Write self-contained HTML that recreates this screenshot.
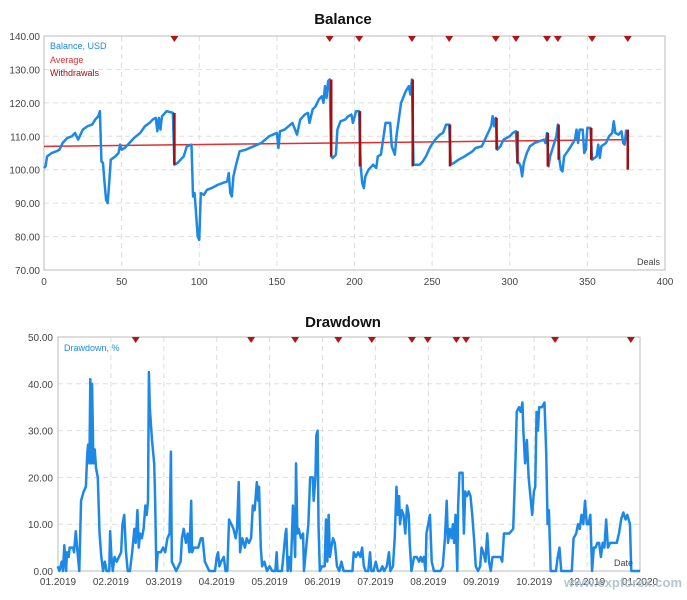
<!DOCTYPE html><html><head><meta charset="utf-8"><style>
body{margin:0;background:#fff;width:687px;height:600px;overflow:hidden}
svg{display:block;font-family:"Liberation Sans","DejaVu Sans",sans-serif}
</style></head><body>
<svg id="s" width="687" height="600" xmlns="http://www.w3.org/2000/svg">
<text x="343" y="24" text-anchor="middle" font-size="15" font-weight="bold" fill="#111">Balance</text>
<text x="343" y="327" text-anchor="middle" font-size="15" font-weight="bold" fill="#111">Drawdown</text>
</svg>
<script>
const s=document.getElementById('s');const NS='http://www.w3.org/2000/svg';
function el(t,a,txt){const e=document.createElementNS(NS,t);for(const k in a)e.setAttribute(k,a[k]);if(txt!==undefined)e.textContent=txt;s.appendChild(e);return e;}
// ---- Balance
const L=44,R=665,T=36,B=270;
const bx=d=>L+d*(R-L)/400, by=v=>T+(140-v)*(B-T)/70;
for(let v=70;v<=140;v+=10){const y=by(v);if(v>70&&v<140)el('line',{x1:L,x2:R,y1:y,y2:y,stroke:'#ddd','stroke-dasharray':'5,4'});el('text',{x:L-4,y:y+4,'text-anchor':'end','font-size':10,fill:'#444'},v.toFixed(2));}
for(let d=0;d<=400;d+=50){const x=bx(d);if(d>0&&d<400)el('line',{x1:x,x2:x,y1:T,y2:B,stroke:'#ddd','stroke-dasharray':'5,4'});el('text',{x:x,y:B+15,'text-anchor':'middle','font-size':10,fill:'#444'},d);}
el('rect',{x:L,y:T,width:R-L,height:B-T,fill:'none',stroke:'#bbb'});
const bal=[[0,100.5],[1,101],[2,104],[5,105],[8,105.5],[10,106],[12,108],[15,109.5],[18,110],[20,111],[22,109],[25,112],[28,113],[31,113.5],[33,115],[35,116],[36,117.5],[37,102.5],[38,102],[39,96],[40,91],[41,90],[42,96],[43,103],[46,104],[48,105],[49,107.5],[50,106],[52,106.5],[55,108],[58,109.5],[62,111],[65,113],[68,114],[70,115],[72,115.5],[73,111.5],[74,115.5],[75,112],[76,116],[78,117],[79,117.5],[83,117],[84,101.5],[86,102],[88,103],[90,104],[92,107],[95,107.5],[96,92],[97,93],[99,80],[100,79],[101,93],[103,92.5],[105,94],[108,94.5],[112,95.5],[118,96.5],[119,99],[120,93],[121,92],[122,98],[124,102],[126,105.5],[130,106],[135,107],[140,108],[145,110],[150,111],[151,106.5],[152,111.5],[155,112],[160,114],[163,110.5],[165,115],[168,116.5],[170,117],[171,114],[173,118],[175,119],[177,121],[179,122],[180,120],[181,125],[182,121.5],[183,126.5],[184,127],[185,104],[186,103.5],[188,104.5],[189,112],[191,114.5],[194,115],[196,116],[198,116.5],[199,114],[201,117.5],[203,117.5],[204,101],[205,96],[206,94.5],[207,98],[209,100],[212,101.5],[214,100.5],[215,104],[217,104.5],[220,114],[223,114],[224,107],[226,104.5],[227,110],[230,120],[233,123.5],[235,125],[236,122.5],[237,127],[238,101.5],[242,101.5],[244,102.5],[246,104],[249,107],[252,109],[255,110.5],[257,111],[259,113.5],[261,113.5],[262,101.5],[264,102],[267,103],[271,104],[276,105.5],[278,106.5],[282,107],[285,110],[288,113],[289,116],[290,113],[291,115.5],[292,106],[294,107],[296,109],[300,110],[302,111],[304,111.5],[305,102],[306,102],[307,101],[308,98],[309,102],[311,105],[313,107],[316,108],[319,108.5],[322,109],[323,108],[324,111],[325,101],[326,104],[328,107],[330,110],[331,113.5],[332,103],[333,100],[334,99.5],[335,104],[338,106],[340,107.5],[342,109],[343,112],[344,108],[345,112],[347,112],[348,105],[349,106],[350,112.5],[352,112.5],[353,103],[356,104],[357,107.5],[358,103.5],[359,107],[362,108],[364,110],[366,111],[367,114.5],[368,111],[370,110.5],[372,111.5],[373,108],[374,107.5],[375,112]];
el('line',{x1:bx(0),y1:by(107),x2:bx(376),y2:by(109),stroke:'#e03030','stroke-width':1.5});
el('polyline',{points:bal.map(p=>bx(p[0])+','+by(p[1])).join(' '),fill:'none',stroke:'#1e88e5','stroke-width':2.5,'stroke-linejoin':'round'});
const wd=[[84,117,101.5],[185,127,104],[203.5,117.5,101],[237.5,127,101],[261.5,113.5,101],[291.5,115.5,106],[305,111.5,102],[324.5,111,101],[331.5,113.5,103],[352.5,112.5,103],[376,112,100]];
wd.forEach(w=>el('line',{x1:bx(w[0]),x2:bx(w[0]),y1:by(w[1]),y2:by(w[2]),stroke:'#a01010','stroke-width':2.5}));
[84,184,203,237,261,291,304,324,331,353,376].forEach(d=>{const x=bx(d);el('polygon',{points:(x-4)+','+T+' '+(x+4)+','+T+' '+x+','+(T+6),fill:'#b01515'});});
el('text',{x:50,y:49,'font-size':9,fill:'#1e88e5'},'Balance, USD');
el('text',{x:50,y:63,'font-size':9,fill:'#e03030'},'Average');
el('text',{x:50,y:76,'font-size':9,fill:'#a01010'},'Withdrawals');
el('text',{x:660,y:265,'text-anchor':'end','font-size':9,fill:'#444'},'Deals');
// ---- Drawdown
const L2=58,R2=640,T2=337,B2=571;
const dy=v=>B2-v*(B2-T2)/50, dx=z=>z/2.27;
for(let v=0;v<=50;v+=10){const y=dy(v);if(v>0&&v<50)el('line',{x1:L2,x2:R2,y1:y,y2:y,stroke:'#ddd','stroke-dasharray':'5,4'});el('text',{x:L2-5,y:y+4,'text-anchor':'end','font-size':10,fill:'#444'},v.toFixed(2));}
const ml=['01.2019','02.2019','03.2019','04.2019','05.2019','06.2019','07.2019','08.2019','09.2019','10.2019','','12.2019','01.2020'];
const step=(R2-L2)/11;
for(let i=0;i<=11;i++){const x=L2+i*step;if(i>0&&i<11)el('line',{x1:x,x2:x,y1:T2,y2:B2,stroke:'#ddd','stroke-dasharray':'5,4'});}
const labs=['01.2019','02.2019','03.2019','04.2019','05.2019','06.2019','07.2019','08.2019','09.2019','10.2019','12.2019','01.2020'];
labs.forEach((t,i)=>{const x=L2+i*step;el('text',{x:x,y:B2+14,'text-anchor':'middle','font-size':10,fill:'#444'},t);});
el('rect',{x:L2,y:T2,width:R2-L2,height:B2-T2,fill:'none',stroke:'#bbb'});
const dd=[131,1,135,0,140,2,143,0,146,5.5,150,0,152,4,156,3,158,5,166,5,168,4,172,8.5,176,4,180,0,184,15,190,17,195,18,198,25,200,27,203,23,205,41,207,23,209,40,212,23,215,26,218,22,222,20,226,8,230,3,234,0,238,2,242,0,248,0,250,8.5,253,3,256,0,260,3,265,2,270,3,275,4,278,10,282,12,286,4,290,0,295,0,300,4,305,9,308,6,312,13,315,5,318,8,322,7,326,9,330,14,333,12,336,15,338,42.5,340,35,345,28,350,23,352,16,355,0,358,4,365,4,370,5,375,4,380,7,385,8,388,25.5,390,2,395,1,400,0,405,1,410,2,413,7,417,9,422,6,426,8,430,4,434,15,436,4,440,5,450,5,456,7,460,7,465,2,470,1,475,0,488,0,492,3,495,4,498,1,502,2,508,3,512,0,516,0,520,11,525,10,530,9,535,7,538,9,542,19,545,4,550,7,556,5,560,7,565,6,570,7,574,14,578,13,583,19,586,15,588,18,592,5,595,1,600,2,606,0,612,1,618,0,625,0,628,4,630,0,640,0,645,5,648,8,650,9,653,0,656,3,660,0,665,14,670,3,672,23,675,8,678,9,683,7,688,8,690,0,695,5,700,10,704,20,710,20,712,15,716,20,718,29,721,30,723,10,726,0,731,1,737,1,740,11,743,2,746,12,749,3,752,5,756,7,760,6,765,1,770,0,775,2,780,0,800,0,803,4,808,3,813,4,818,3,822,5,826,1,830,0,836,0,840,4,843,0,848,0,853,2,858,0,863,0,868,1,872,0,878,1,883,4,886,0,892,1,896,7,900,18,903,12,906,16,908,10,912,13,916,12,920,8,924,14,928,12,930,6,934,0,940,3,946,3,951,2,955,3,958,2,962,3,966,0,968,8,972,10,976,12,980,2,985,0,1000,0,1005,1,1010,7,1014,15,1017,6,1021,9,1025,7,1028,10,1031,6,1034,12,1038,0,1040,14,1043,21,1050,21,1053,8,1056,17,1060,16,1064,17,1068,16,1072,12,1076,7,1080,1,1085,0,1090,1,1093,5,1097,4,1102,2,1106,8,1110,2,1114,0,1118,3,1136,3,1140,2,1144,8,1156,8,1165,9,1170,23,1173,34,1178,35,1182,34,1186,36,1188,30,1192,23,1196,28,1200,20,1205,15,1208,12,1212,17,1215,18,1218,34,1221,30,1224,35,1230,35,1236,36,1240,25,1243,10,1246,13,1250,0,1262,0,1266,3,1270,5,1274,0,1298,0,1302,7,1308,8,1312,10,1316,9,1320,12,1324,10,1328,15,1332,10,1336,10,1340,12,1344,0,1348,5,1352,5,1356,6,1360,6,1364,3,1368,6,1372,5,1376,11,1380,5,1385,6,1400,6,1405,8,1410,11,1415,12.5,1420,11,1424,12,1430,10,1433,0,1453,0];
let pts=[];for(let i=0;i<dd.length;i+=2)pts.push(dx(dd[i])+','+dy(dd[i+1]));
el('polyline',{points:pts.join(' '),fill:'none',stroke:'#1e88e5','stroke-width':2.5,'stroke-linejoin':'round'});
[308,570,670,768,844,935,971,1036,1058,1260,1432].forEach(z=>{const x=dx(z);el('polygon',{points:(x-4)+','+T2+' '+(x+4)+','+T2+' '+x+','+(T2+6),fill:'#b01515'});});
el('text',{x:64,y:351,'font-size':9,fill:'#1e88e5'},'Drawdown, %');
el('text',{x:633,y:566,'text-anchor':'end','font-size':9,fill:'#444'},'Date');
el('text',{x:682,y:587,'text-anchor':'end','font-size':13,fill:'#9fb8c8','font-weight':'bold',opacity:0.8},'www.expforex.com');
</script>
</body></html>
